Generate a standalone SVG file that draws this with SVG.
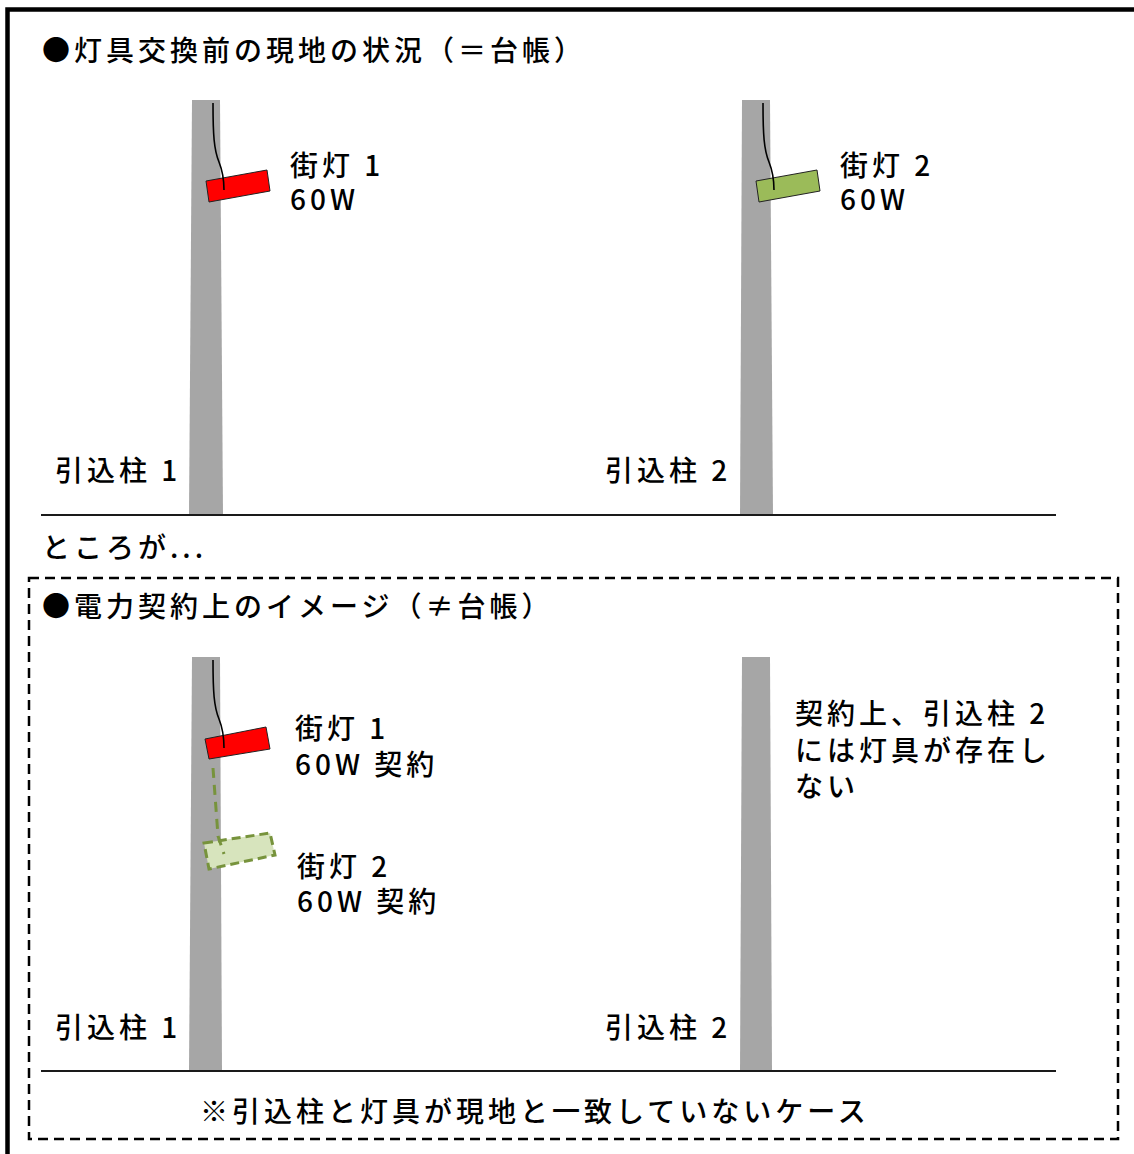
<svg xmlns="http://www.w3.org/2000/svg" width="1134" height="1154" viewBox="0 0 1134 1154">
<style>
text{font-family:"Noto Sans CJK JP","Noto Sans",sans-serif;font-size:28px;font-weight:500;fill:#000;letter-spacing:4px}
.pole{fill:#A6A6A6}
.ground{stroke:#1a1a1a;stroke-width:2;fill:none}
.wire{stroke:#000;stroke-width:1.6;fill:none}
.lamp{stroke:#222;stroke-width:1}
</style>
<rect width="1134" height="1154" fill="#fff"/>
<rect x="7.5" y="9.5" width="1200" height="1200" fill="none" stroke="#000" stroke-width="4.5"/>
<rect x="29" y="578" width="1089" height="561" fill="none" stroke="#000" stroke-width="2.5" stroke-dasharray="10 6"/>

<g id="title1"><text x="42" y="61">●灯具交換前の現地の状況（＝台帳）</text></g>
<g id="tokoroga"><text x="42" y="558">ところが...</text></g>
<g id="title2"><text x="42" y="617">●電力契約上のイメージ（≠台帳）</text></g>

<g id="top-pole1">
<polygon class="pole" points="192,100 220,100 223,515 189,515"/>
<text x="55" y="481">引込柱 1</text>
</g>
<g id="top-pole2">
<polygon class="pole" points="742,100 770,100 773,515 740,515"/>
<text x="605" y="481">引込柱 2</text>
</g>
<g id="top-lamp1">
<polygon class="lamp" fill="#FF0000" points="206,181 267,170 270,191 209,202"/>
<text x="290" y="176">街灯 1<tspan x="290" y="210">60W</tspan></text>
</g>
<g id="top-lamp2">
<polygon class="lamp" fill="#9BBB59" points="756,181 817,170 820,191 759,202"/>
<text x="840" y="176">街灯 2<tspan x="840" y="210">60W</tspan></text>
</g>

<g id="bottom-pole1">
<polygon class="pole" points="192,657 220,657 222,1071 189,1071"/>
<text x="55" y="1038">引込柱 1</text>
</g>
<g id="bottom-pole2">
<polygon class="pole" points="742,657 770,657 772,1071 740,1071"/>
<text x="605" y="1038">引込柱 2</text>
</g>
<g id="bottom-lamp1">
<polygon class="lamp" fill="#FF0000" points="205,739 266,727 270,749 209,759"/>
<text x="295" y="739">街灯 1<tspan x="295" y="775">60W 契約</tspan></text>
</g>
<g id="bottom-lamp2">
<polygon fill="#D7E4BD" stroke="#77933C" stroke-width="3" stroke-dasharray="9 5" points="204,843 270,833 275,855 209,869"/>
<text x="297" y="877">街灯 2<tspan x="297" y="912">60W 契約</tspan></text>
</g>
<g id="note">
<text x="795" y="724">契約上、引込柱 2<tspan x="795" y="761">には灯具が存在し</tspan><tspan x="795" y="797">ない</tspan></text>
</g>
<g id="caption"><text x="200" y="1122">※引込柱と灯具が現地と一致していないケース</text></g>

<g id="connectors">
<line class="ground" x1="41" y1="515" x2="1056" y2="515"/>
<line class="ground" x1="41" y1="1071" x2="1056" y2="1071"/>
<path class="wire" d="M213,103 C213,135 214,150 219,162 C223,172 224,180 224,190"/>
<path class="wire" d="M763,103 C763,135 764,150 769,162 C773,172 774,180 774,190"/>
<path class="wire" d="M213,660 C213,692 214,707 219,719 C223,729 224,738 224,748"/>
<path d="M213,768 L218,836 L224,854" fill="none" stroke="#77933C" stroke-width="3" stroke-dasharray="10 7"/>
</g>
</svg>
